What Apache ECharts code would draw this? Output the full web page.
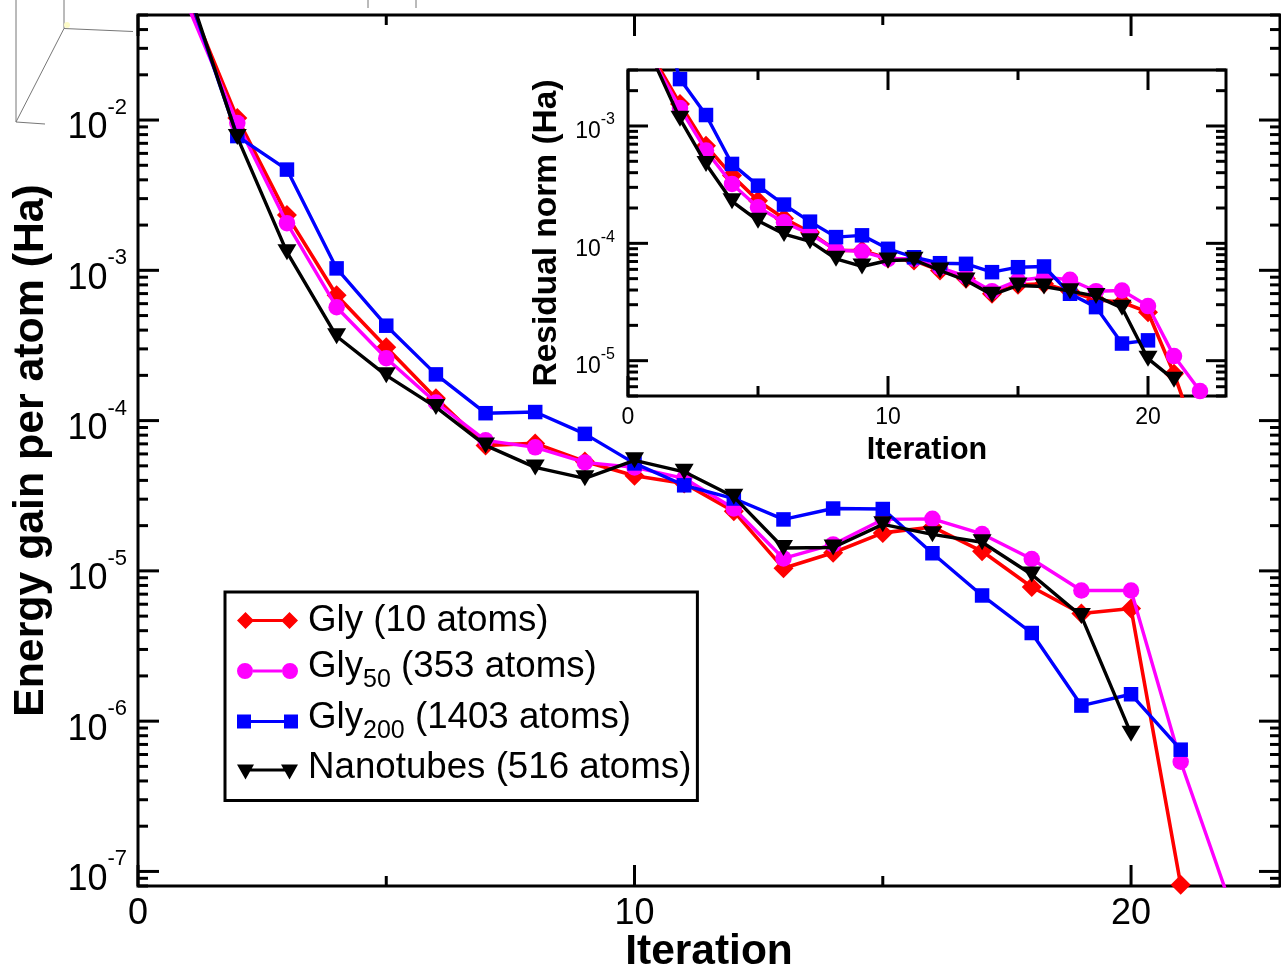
<!DOCTYPE html>
<html>
<head>
<meta charset="utf-8">
<style>html,body{margin:0;padding:0;background:#fff}#c{width:1281px;height:977px}</style>
<script src="https://cdn.jsdelivr.net/npm/echarts@6/dist/echarts.min.js"></script>
</head>
<body>
<div id="c"></div>
<script>
// ---- main panel: energy gain per atom (Ha), iteration 1..
const iterations = [1,2,3,4,5,6,7,8,9,10,11,12,13,14,15,16,17,18,19,20,21,22];
const energyGly = [0.065,1.03e-2,2.33e-3,6.83e-4,3.08e-4,1.41e-4,6.84e-5,7.05e-5,5.35e-5,4.29e-5,3.82e-5,2.49e-5,1.04e-5,1.32e-5,1.79e-5,1.96e-5,1.35e-5,7.81e-6,5.2e-6,5.62e-6,8.15e-8];
const energyGly50 = [0.058,9.55e-3,2.06e-3,5.68e-4,2.6e-4,1.32e-4,7.39e-5,6.64e-5,5.27e-5,4.88e-5,4.13e-5,2.6e-5,1.21e-5,1.5e-5,2.2e-5,2.22e-5,1.76e-5,1.2e-5,7.4e-6,7.4e-6,5.37e-7,6.09e-8];
const energyGly200 = [0.072,7.82e-3,4.68e-3,1.03e-3,4.28e-4,2.03e-4,1.12e-4,1.14e-4,8.16e-5,5.19e-5,3.71e-5,3.03e-5,2.2e-5,2.6e-5,2.58e-5,1.31e-5,6.86e-6,3.86e-6,1.27e-6,1.51e-6,6.46e-7];
const energyTubes = [0.076,7.7e-3,1.32e-3,3.64e-4,2e-4,1.23e-4,6.84e-5,4.88e-5,4.13e-5,5.44e-5,4.56e-5,3.11e-5,1.42e-5,1.43e-5,2.04e-5,1.75e-5,1.55e-5,9.46e-6,5e-6,8.26e-7];
// ---- inset: residual norm (Ha)
const residualGly = [3.74e-3,1.54e-3,6.8e-4,3.78e-4,2.31e-4,1.63e-4,1.24e-4,8.68e-5,8.68e-5,7.42e-5,7.14e-5,5.87e-5,4.99e-5,3.72e-5,4.43e-5,4.52e-5,3.91e-5,3.31e-5,3.15e-5,2.59e-5,7.75e-6,1.83e-6];
const residualGly50 = [3.5e-3,1.42e-3,6.17e-4,3.21e-4,2.03e-4,1.51e-4,1.2e-4,8.8e-5,8.51e-5,7.38e-5,7.38e-5,6.22e-5,5.22e-5,3.91e-5,4.82e-5,5.14e-5,4.89e-5,3.91e-5,3.96e-5,2.92e-5,1.094e-5,5.51e-6];
const residualGly200 = [0.014,2.51e-3,1.24e-3,4.75e-4,3.1e-4,2.14e-4,1.53e-4,1.13e-4,1.17e-4,8.98e-5,7.61e-5,6.77e-5,6.69e-5,5.68e-5,6.26e-5,6.35e-5,3.72e-5,2.86e-5,1.4e-5,1.49e-5];
const residualTubes = [3.52e-3,1.15e-3,4.75e-4,2.28e-4,1.56e-4,1.2e-4,1.04e-4,7.38e-5,6.35e-5,7.14e-5,7.24e-5,5.87e-5,4.82e-5,3.64e-5,4.37e-5,4.29e-5,3.91e-5,3.55e-5,2.82e-5,1.04e-5,6.89e-6];
// ---- axes and text
const mainYMin = 8e-8, mainYMax = 0.05, insetYMin = 5e-6, insetYMax = 3e-3;
const xMax = 23;
const xMajorTicks = [0,10,20], xMinorTicks = [5,15];
const mainExponents = [-2,-3,-4,-5,-6,-7], insetExponents = [-3,-4,-5];
const seriesNames = ['Gly (10 atoms)','Gly50 (353 atoms)','Gly200 (1403 atoms)','Nanotubes (516 atoms)'];
const legendRichText = ['{g| }{a|Gly (10 atoms)}{h| }','{g| }{r|Gly}{s|50}{r| (353 atoms)}','{g| }{r|Gly}{s|200}{r| (1403 atoms)}','{g| }{r|Nanotubes (516 atoms)}'];
const seriesColors = ['#ff0000','#ff00ff','#0000ff','#000000'];
const seriesLineWidths = [3.6,3.4,3.4,3.4];

const FONT = '"Liberation Sans", Arial, sans-serif';
const symbols = [
  {symbol:'diamond', symbolSize:[20,20]},
  {symbol:'circle', symbolSize:16.5},
  {symbol:'rect', symbolSize:14.5},
  {symbol:'triangle', symbolSize:[19,16], symbolRotate:180}
];
const legendIcons = [
  'path://M0 8.5L8.5 0L17 8.5L8.5 17ZM44 8.5L52.5 0L61 8.5L52.5 17ZM8 7H53V10H8Z',
  'path://M0 8a8 8 0 1 0 16 0a8 8 0 1 0 -16 0ZM45 8a8 8 0 1 0 16 0a8 8 0 1 0 -16 0ZM16 6.5H45V9.5H16Z',
  'path://M0 0H14V14H0ZM47 0H61V14H47ZM14 5.5H47V8.5H14Z',
  'path://M0 0H17L8.5 15ZM44 0H61L52.5 15ZM8 4H53V7H8Z'
];

function yTicks(min, max, exps){
  const out = [];
  for (let e = Math.max(...exps)+1; e >= Math.min(...exps)-1; e--){
    for (let m = 1; m <= 9; m++){
      const v = m*Math.pow(10,e);
      if (v >= min*0.999 && v <= max*1.001) out.push([v, m===1?1:0]);
    }
  }
  return out;
}
function tickSeries(gridIdx, ymin, ymax, exps, majorLen, minorLen){
  const data = [];
  yTicks(ymin,ymax,exps).forEach(t => data.push([0,t[0],t[1]?majorLen:minorLen,0]));
  xMajorTicks.forEach(v => data.push([v,ymin,majorLen,1]));
  xMinorTicks.forEach(v => data.push([v,ymin,minorLen,1]));
  return {
    type:'custom', coordinateSystem:'cartesian2d', xAxisIndex:gridIdx, yAxisIndex:gridIdx,
    silent:true, z:1, data, encode:{x:0,y:1}, clip:false,
    renderItem(params, api){
      const c = api.coord([api.value(0), api.value(1)]);
      const a = params.coordSys, len = api.value(2), isX = api.value(3)===1;
      const st = {stroke:'#000', lineWidth:3};
      const seg = isX
        ? [[c[0],a.y+a.height,c[0],a.y+a.height-len],[c[0],a.y,c[0],a.y+len]]
        : [[a.x,c[1],a.x+len,c[1]],[a.x+a.width,c[1],a.x+a.width-len,c[1]]];
      return {type:'group',children:seg.map(s=>({type:'line',shape:{x1:s[0],y1:s[1],x2:s[2],y2:s[3]},style:st}))};
    }
  };
}
function lineSeries(name, values, i, gridIdx){
  return Object.assign({
    name, type:'line', xAxisIndex:gridIdx, yAxisIndex:gridIdx,
    data: values.map((v,k)=>[iterations[k],v]),
    lineStyle:{color:seriesColors[i],width:seriesLineWidths[i]},
    itemStyle:{color:seriesColors[i]},
    showAllSymbol:true, clip:true, animation:false, z:2+i+gridIdx*10
  }, symbols[i]);
}
function xAxis(gridIdx, fontSize, margin, name, nameSize, nameGap){
  return {
    type:'value', gridIndex:gridIdx, min:0, max:xMax, interval:10,
    axisLine:{show:false}, axisTick:{show:false}, splitLine:{show:false},
    axisLabel:{fontFamily:FONT,fontSize,color:'#000',margin,showMaxLabel:false,
      formatter:v=>xMajorTicks.includes(v)?String(v):''},
    name, nameLocation:'middle', nameGap, nameMoveOverlap:false,
    nameTextStyle:{fontFamily:FONT,fontWeight:'bold',fontSize:nameSize,color:'#000'}
  };
}
function yAxis(gridIdx, min, max, exps, base, sup, margin, shiftB, shiftS, name, nameSize, nameGap){
  return {
    type:'log', logBase:10, gridIndex:gridIdx, min, max,
    axisLine:{show:false}, axisTick:{show:false}, splitLine:{show:false}, minorTick:{show:false},
    axisLabel:{margin,showMinLabel:true,showMaxLabel:true,hideOverlap:false,formatter:v=>{
        const e = Math.round(Math.log10(v));
        if (Math.abs(Math.log10(v)-e)>1e-6 || !exps.includes(e)) return '';
        return '{b|10}{s|'+e+'}';
      },
      rich:{
        b:{fontFamily:FONT,fontSize:base,color:'#000',padding:[shiftB,0,0,0]},
        s:{fontFamily:FONT,fontSize:sup,color:'#000',padding:[0,0,shiftS,0]}
      }},
    name, nameLocation:'middle', nameGap, nameRotate:90, nameMoveOverlap:false,
    nameTextStyle:{fontFamily:FONT,fontWeight:'bold',fontSize:nameSize,color:'#000'}
  };
}

const decoLine = (x1,y1,x2,y2)=>({type:'line',silent:true,z:0,shape:{x1,y1,x2,y2},style:{stroke:'#777',lineWidth:1}});

const option = {
  animation:false,
  backgroundColor:'#fff',
  grid:[
    {left:138,top:15,width:1142,height:871,outerBoundsMode:'none',show:true,borderColor:'#000',borderWidth:3,backgroundColor:'transparent'},
    {left:628,top:70,width:598,height:326,outerBoundsMode:'none',show:true,borderColor:'#000',borderWidth:3,backgroundColor:'#fff',z:1}
  ],
  xAxis:[
    xAxis(0,36,10,'Iteration',42.5,45),
    xAxis(1,23,10,'Iteration',30.5,39)
  ],
  yAxis:[
    yAxis(0,mainYMin,mainYMax,mainExponents,36,22,11,17,24,'Energy gain per atom (Ha)',42.8,85),
    yAxis(1,insetYMin,insetYMax,insetExponents,23,16,13,12,12,'Residual norm (Ha)',33.5,64)
  ],
  legend:{
    left:225, top:592, orient:'vertical', align:'left',
    data:seriesNames.map((n,i)=>({name:n,icon:legendIcons[i]})),
    itemWidth:61, itemHeight:18, itemGap:-2, padding:[10,6,6,12],
    backgroundColor:'#fff', borderColor:'#000', borderWidth:3, borderRadius:0,
    selectedMode:false, inactiveColor:'#000', z:20,
    formatter:n=>legendRichText[seriesNames.indexOf(n)],
    textStyle:{fontFamily:FONT,fontSize:36.7,color:'#000',rich:{
      g:{fontFamily:FONT,fontSize:18,color:'#000'},
      a:{fontFamily:FONT,fontSize:36.7,color:'#000',lineHeight:60},
      h:{fontFamily:FONT,fontSize:25,color:'#000',lineHeight:25,verticalAlign:'bottom'},
      r:{fontFamily:FONT,fontSize:36.7,color:'#000',lineHeight:60,padding:[0,0,8,0]},
      s:{fontFamily:FONT,fontSize:25,color:'#000',lineHeight:25,verticalAlign:'bottom',padding:[0,0,8,0]}
    }}
  },
  graphic:[
    decoLine(64,0,64,28.5),decoLine(64,28.5,133,31.5),decoLine(64,28.5,16,122),
    decoLine(16,0,16,122),decoLine(16,122,45,124),decoLine(368,0,368,8),decoLine(416,0,416,8),
    {type:'circle',silent:true,z:0,shape:{cx:67,cy:25,r:3},style:{fill:'#fdfbc8'}}
  ],
  series:[
    tickSeries(0,mainYMin,mainYMax,mainExponents,21,10),
    tickSeries(1,insetYMin,insetYMax,insetExponents,20,10),
    lineSeries(seriesNames[0],energyGly,0,0),
    lineSeries(seriesNames[1],energyGly50,1,0),
    lineSeries(seriesNames[2],energyGly200,2,0),
    lineSeries(seriesNames[3],energyTubes,3,0),
    lineSeries('Residual Gly',residualGly,0,1),
    lineSeries('Residual Gly50',residualGly50,1,1),
    lineSeries('Residual Gly200',residualGly200,2,1),
    lineSeries('Residual Nanotubes',residualTubes,3,1)
  ]
};
echarts.init(document.getElementById('c'),null,{renderer:'canvas'}).setOption(option);
</script>
</body>
</html>
